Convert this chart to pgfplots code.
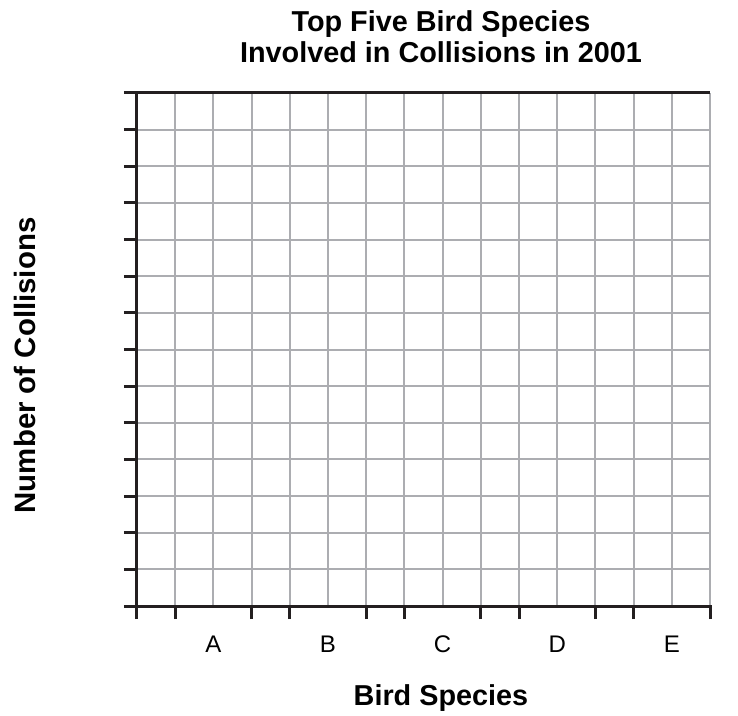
\documentclass[border=0pt]{standalone}
\usepackage{pgfplots}
\pgfplotsset{compat=1.18}
\usepackage{fontspec}
\setmainfont{Liberation Sans}
\definecolor{gridgray}{RGB}{172,173,177}
\definecolor{inkblack}{RGB}{35,31,32}
\begin{document}
\begin{tikzpicture}
\useasboundingbox (-137pt,-109pt) rectangle (601pt,606pt);
\begin{axis}[
  at={(0pt,0pt)}, anchor=south west,
  scale only axis, width=573pt, height=513pt,
  xmin=0, xmax=15, ymin=0, ymax=14,
  clip=false,
  axis x line*=bottom, axis y line*=left,
  axis line style={inkblack, line width=3pt, -, line cap=rect},
  xtick={0,1,3,4,6,7,9,10,12,13,15},
  xticklabels={},
  minor xtick={2,5,8,11,14},
  ytick={0,1,...,14},
  yticklabels={},
  xmajorgrids, xminorgrids, ymajorgrids,
  grid style={gridgray, line width=2pt},
  minor grid style={gridgray, line width=2pt},
  tick align=outside,
  major tick length=13pt, minor tick length=0pt,
  x tick style={inkblack, line width=3pt},
  y tick style={inkblack, line width=3pt},
  extra x ticks={2,5,8,11,14},
  extra x tick labels={A,B,C,D,E},
  extra x tick style={major tick length=0pt, grid=none,
    tick label style={font=\fontsize{24}{24}\selectfont, anchor=base, inner sep=0pt, yshift=-46pt}},
  title={Top Five Bird Species},
  title style={font=\bfseries\fontsize{28.8}{30}\selectfont, anchor=base, inner sep=0pt, yshift=-5pt,
    at={(axis description cs:0.5305,1.1170)}},
  xlabel={Bird Species},
  xlabel style={font=\bfseries\fontsize{28.8}{30}\selectfont, anchor=base, inner sep=0pt,
    at={(axis description cs:0.5305,-0.1930)}},
  ylabel={Number of Collisions},
  ylabel style={font=\bfseries\fontsize{29.4}{30}\selectfont, anchor=base, inner sep=0pt,
    at={(axis description cs:-0.1780,0.4690)}},
]
\draw[inkblack, line width=3pt] (axis cs:0,14) -- (axis cs:15,14);
\node[font=\bfseries\fontsize{28.8}{30}\selectfont, anchor=base, inner sep=0pt]
  at (axis description cs:0.5305,1.0585) {Involved in Collisions in 2001};
\end{axis}
\end{tikzpicture}
\end{document}
